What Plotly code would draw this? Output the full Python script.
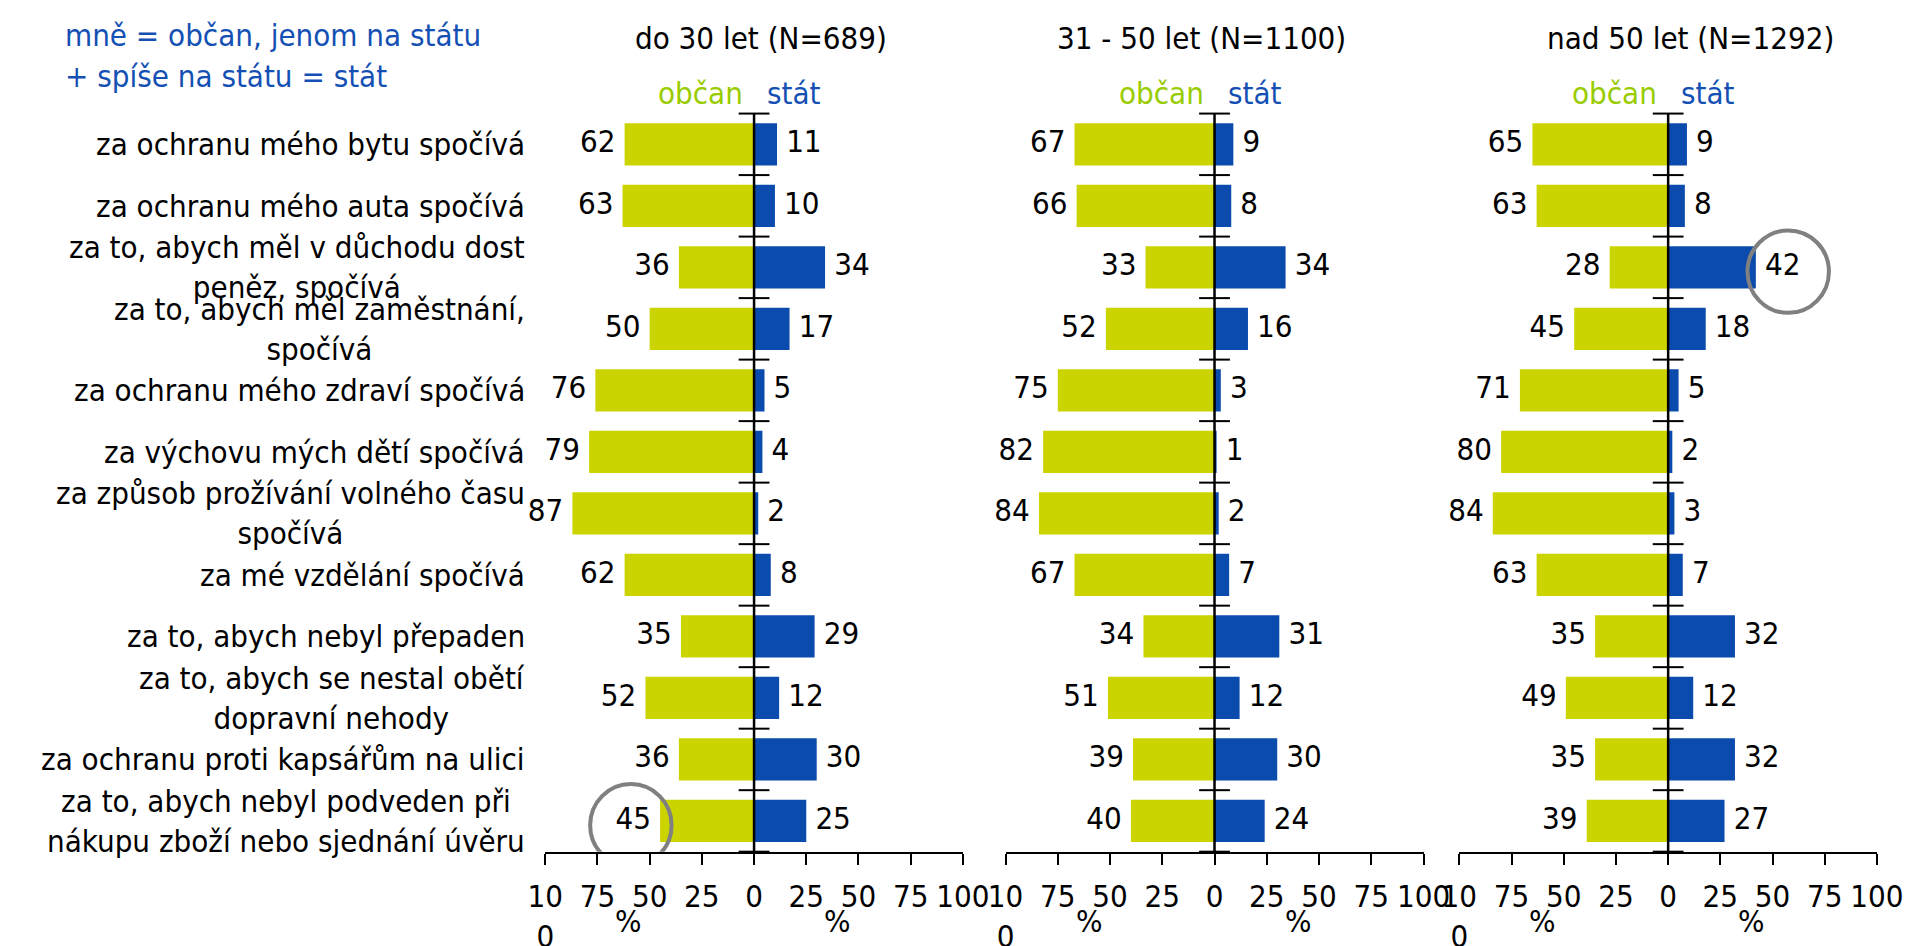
import plotly.graph_objects as go

categories = [
    "za ochranu mého bytu spočívá",
    "za ochranu mého auta spočívá",
    "za to, abych měl v důchodu dost<br>peněz, spočívá",
    "za to, abych měl zaměstnání,<br>spočívá",
    "za ochranu mého zdraví spočívá",
    "za výchovu mých dětí spočívá",
    "za způsob prožívání volného času<br>spočívá",
    "za mé vzdělání spočívá",
    "za to, abych nebyl přepaden",
    "za to, abych se nestal obětí<br>dopravní nehody",
    "za ochranu proti kapsářům na ulici",
    "za to, abych nebyl podveden při<br>nákupu zboží nebo sjednání úvěru",
]

panel_titles = ["do 30 let (N=689)", "31 - 50 let (N=1100)", "nad 50 let (N=1292)"]

obcan_do30 = [62, 63, 36, 50, 76, 79, 87, 62, 35, 52, 36, 45]
stat_do30 = [11, 10, 34, 17, 5, 4, 2, 8, 29, 12, 30, 25]
obcan_31_50 = [67, 66, 33, 52, 75, 82, 84, 67, 34, 51, 39, 40]
stat_31_50 = [9, 8, 34, 16, 3, 1, 2, 7, 31, 12, 30, 24]
obcan_nad50 = [65, 63, 28, 45, 71, 80, 84, 63, 35, 49, 35, 39]
stat_nad50 = [9, 8, 42, 18, 5, 2, 3, 7, 32, 12, 32, 27]

tick_vals = [-100, -75, -50, -25, 0, 25, 50, 75, 100]
tick_text = ["10<br>0", "75", "50", "25", "0", "25", "50", "75", "100"]

legend_lines = ["mně = občan, jenom na státu", "+ spíše na státu = stát"]
side_names = ["občan", "stát"]

# highlighted values: (panel index, category index, side)
highlights = [(0, 11, "obcan"), (2, 2, "stat")]

obcan = [obcan_do30, obcan_31_50, obcan_nad50]
stat = [stat_do30, stat_31_50, stat_nad50]

W, H = 1923, 946
FONT = "DejaVu Sans Condensed, DejaVu Sans, sans-serif"
FS = 31
GREEN = "#CCD400"
BLUE = "#0A4BAD"
GREEN_TXT = "#99CC00"
BLUE_TXT = "#1450B4"

x_domains = [(531.7 / W, 959.3 / W), (1003 / W, 1431 / W), (1467.7 / W, 1895.3 / W)]
y_domain = (1 - 852.7 / H, 1 - 106.7 / H)
title_x = [753, 1204, 1704]

n = len(categories)
ypos = list(range(n))
bounds = [i - 0.5 for i in range(n + 1)]

fig = go.Figure()
annotations = []
shapes = []

for p in range(3):
    xa = "x" if p == 0 else f"x{p+1}"
    ya = "y" if p == 0 else f"y{p+1}"
    neg = [-v for v in obcan[p]]
    fig.add_trace(go.Bar(x=neg, y=ypos, orientation="h", marker=dict(color=GREEN, line=dict(width=0)),
                         width=0.687, xaxis=xa, yaxis=ya, showlegend=False, hoverinfo="skip"))
    fig.add_trace(go.Bar(x=stat[p], y=ypos, orientation="h", marker=dict(color=BLUE, line=dict(width=0)),
                         width=0.687, xaxis=xa, yaxis=ya, showlegend=False, hoverinfo="skip"))
    # value labels
    fig.add_trace(go.Scatter(x=neg, y=ypos, mode="markers+text", text=[str(v) for v in obcan[p]],
                             textposition="middle left", marker=dict(size=13, color="rgba(0,0,0,0)"),
                             textfont=dict(family=FONT, size=FS, color="black"),
                             xaxis=xa, yaxis=ya, showlegend=False, hoverinfo="skip", cliponaxis=False))
    fig.add_trace(go.Scatter(x=stat[p], y=ypos, mode="markers+text", text=[str(v) for v in stat[p]],
                             textposition="middle right", marker=dict(size=13, color="rgba(0,0,0,0)"),
                             textfont=dict(family=FONT, size=FS, color="black"),
                             xaxis=xa, yaxis=ya, showlegend=False, hoverinfo="skip", cliponaxis=False))
    # zero line with category separators
    fig.add_trace(go.Scatter(x=[0] * len(bounds), y=bounds, mode="lines+markers",
                             line=dict(color="black", width=2.5),
                             marker=dict(symbol="line-ew", size=22, line=dict(color="black", width=2)),
                             xaxis=xa, yaxis=ya, showlegend=False, hoverinfo="skip", cliponaxis=False))

    ax = dict(domain=list(x_domains[p]), range=[-100, 100], tickvals=tick_vals, ticktext=tick_text,
              showgrid=False, zeroline=False, showline=True, linecolor="black", linewidth=2,
              ticks="outside", ticklen=11, tickwidth=2, tickcolor="black", ticklabelstandoff=5,
              tickfont=dict(family=FONT, size=FS, color="black"), anchor=ya, fixedrange=True)
    ay = dict(domain=list(y_domain), range=[n - 0.5, -0.5], showticklabels=False, showgrid=False,
              zeroline=False, showline=False, ticks="", anchor=xa, fixedrange=True)
    fig.update_layout(**{("xaxis" if p == 0 else f"xaxis{p+1}"): ax,
                         ("yaxis" if p == 0 else f"yaxis{p+1}"): ay})

    annotations.append(dict(text=panel_titles[p], xref="paper", yref="paper", x=title_x[p] / W, y=1 - 30 / H,
                            xanchor="center", yanchor="middle", showarrow=False,
                            font=dict(family=FONT, size=FS, color="black")))
    annotations.append(dict(text=side_names[0], xref=xa, yref="paper", x=0, y=1 - 86 / H, xshift=-9,
                            xanchor="right", yanchor="middle", showarrow=False,
                            font=dict(family=FONT, size=FS, color=GREEN_TXT)))
    annotations.append(dict(text=side_names[1], xref=xa, yref="paper", x=0, y=1 - 86 / H, xshift=11,
                            xanchor="left", yanchor="middle", showarrow=False,
                            font=dict(family=FONT, size=FS, color=BLUE_TXT)))
    for xv in (-60, 40):
        annotations.append(dict(text="%", xref=xa, yref="paper", x=xv, y=1 - 923 / H,
                                xanchor="center", yanchor="middle", showarrow=False,
                                font=dict(family=FONT, size=FS, color="black")))

for i, c in enumerate(categories):
    annotations.append(dict(text=c, xref="x domain", yref="y", x=0, y=i, xshift=-18,
                            xanchor="right", yanchor="middle", align="center", showarrow=False,
                            font=dict(family=FONT, size=FS, color="black")))

for k, line in enumerate(legend_lines):
    annotations.append(dict(text=line, xref="paper", yref="paper", x=38 / W, y=1 - (27 + 42 * k) / H,
                            xanchor="left", yanchor="middle", showarrow=False,
                            font=dict(family=FONT, size=FS, color=BLUE_TXT)))

for p, i, side in highlights:
    xa = "x" if p == 0 else f"x{p+1}"
    ya = "y" if p == 0 else f"y{p+1}"
    v = obcan[p][i] if side == "obcan" else stat[p][i]
    cx = -(v + 14) if side == "obcan" else (v + 15.5)
    shapes.append(dict(type="circle", xref=xa, yref=ya, x0=cx - 19.5, x1=cx + 19.5,
                       y0=i - 0.6, y1=i + 0.74, line=dict(color="#808080", width=4)))

fig.update_layout(width=W, height=H, autosize=False, margin=dict(l=0, r=0, t=0, b=0),
                  paper_bgcolor="white", plot_bgcolor="white", barmode="overlay",
                  annotations=annotations, shapes=shapes, showlegend=False,
                  font=dict(family=FONT, size=FS, color="black"))

fig.write_html("out.html")
